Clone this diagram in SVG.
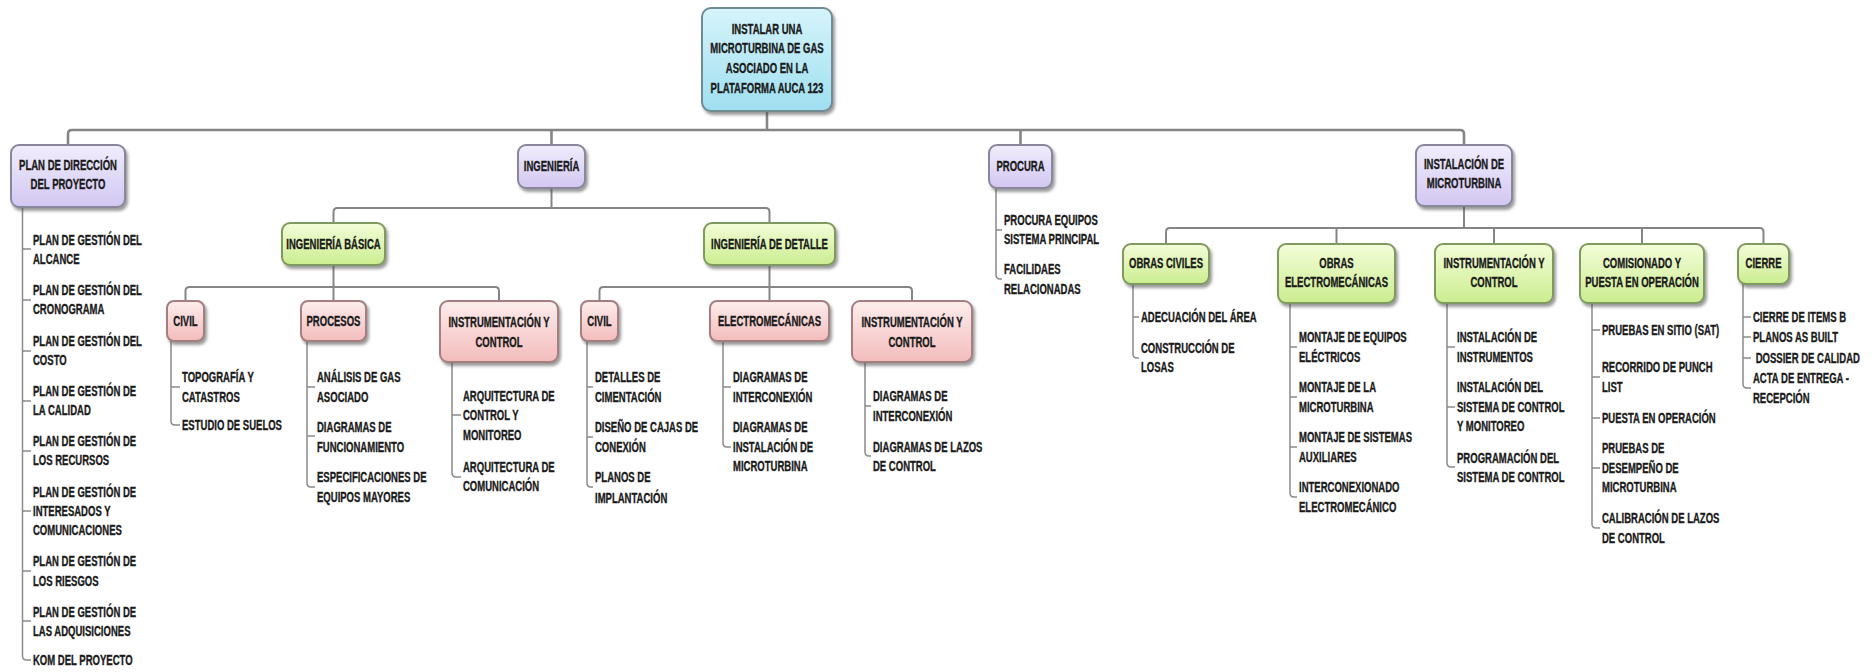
<svg xmlns="http://www.w3.org/2000/svg" width="1876" height="672" viewBox="0 0 1876 672">
  <defs>
    <linearGradient id="gCyan" x1="0" y1="0" x2="0" y2="1">
      <stop offset="0" stop-color="#d6f4fb"/>
      <stop offset="1" stop-color="#9fdff0"/>
    </linearGradient>
    <linearGradient id="gPurple" x1="0" y1="0" x2="0" y2="1">
      <stop offset="0" stop-color="#f1edfc"/>
      <stop offset="1" stop-color="#d2c7f2"/>
    </linearGradient>
    <linearGradient id="gGreen" x1="0" y1="0" x2="0" y2="1">
      <stop offset="0" stop-color="#f4fdd9"/>
      <stop offset="1" stop-color="#cbed90"/>
    </linearGradient>
    <linearGradient id="gPink" x1="0" y1="0" x2="0" y2="1">
      <stop offset="0" stop-color="#fdeded"/>
      <stop offset="1" stop-color="#f3bcbc"/>
    </linearGradient>
    <filter id="shadow" x="-20%" y="-20%" width="140%" height="150%">
      <feDropShadow dx="2" dy="3" stdDeviation="1.6" flood-color="#4a4a4a" flood-opacity="0.55"/>
    </filter>
  </defs>
  <style>
    .box { stroke-width: 2; filter: url(#shadow); }
    .cyan { fill: url(#gCyan); stroke: #6f8b93; }
    .purple { fill: url(#gPurple); stroke: #8a869c; }
    .green { fill: url(#gGreen); stroke: #7f9a5e; }
    .pink { fill: url(#gPink); stroke: #a57f7f; }
    .t { font-family: "Liberation Sans", Arial, sans-serif; font-weight: bold; font-size: 14px; fill: #1a1a1a; stroke: #1a1a1a; stroke-width: 0.35px; }
    .c { text-anchor: middle; }
    .bus { fill: none; stroke: #858585; stroke-width: 2.6; }
    .sub { fill: none; stroke: #858585; stroke-width: 2; }
    .leaf { fill: none; stroke: #8a8a8a; stroke-width: 1.5; }
  </style>
  <rect width="1876" height="672" fill="#ffffff"/>

  <!-- connectors -->
  <g id="connectors">
    <path class="bus" d="M767 111 V130 M68 145 V134 Q68 130 72 130 H1460 Q1464 130 1464 134 V145 M551.5 130 V145 M1020.5 130 V145"/>
    <path class="sub" d="M551.5 188 V208 M333.5 223 V212 Q333.5 208 337.5 208 H765.5 Q769.5 208 769.5 212 V223"/>
    <path class="sub" d="M333.5 265 V301 M185.5 301 V291 Q185.5 287 189.5 287 H495 Q499 287 499 291 V301"/>
    <path class="sub" d="M769.5 265 V301 M599.5 301 V291 Q599.5 287 603.5 287 H908 Q912 287 912 291 V301"/>
    <path class="sub" d="M1464 206 V228 M1166 244 V232 Q1166 228 1170 228 H1759.5 Q1763.5 228 1763.5 232 V244 M1336.5 228 V244 M1494 228 V244 M1642 228 V244"/>
    <!-- leaf brackets -->
    <path class="leaf" d="M22.5 208 V656 Q22.5 660 26.5 660 H31 M22.5 249 H31 M22.5 300 H31 M22.5 351 H31 M22.5 401 H31 M22.5 451 H31 M22.5 511 H31 M22.5 571 H31 M22.5 621 H31"/>
    <path class="leaf" d="M996 188 V275 Q996 279 1000 279 H1002 M996 230 H1002"/>
    <path class="leaf" d="M171 341 V421 Q171 425 175 425 H180 M171 387 H180"/>
    <path class="leaf" d="M307 341 V483 Q307 487 311 487 H315 M307 387 H315 M307 436 H315"/>
    <path class="leaf" d="M452 362 V473 Q452 477 456 477 H461 M452 415 H461"/>
    <path class="leaf" d="M587 341 V483 Q587 487 591 487 H593 M587 387 H593 M587 437 H593"/>
    <path class="leaf" d="M723 341 V443 Q723 447 727 447 H731 M723 387 H731"/>
    <path class="leaf" d="M865 362 V452 Q865 456 869 456 H871 M865 406 H871"/>
    <path class="leaf" d="M1133 284 V354 Q1133 358 1137 358 H1139 M1133 317 H1139"/>
    <path class="leaf" d="M1290 303 V493 Q1290 497 1294 497 H1297 M1290 347 H1297 M1290 397 H1297 M1290 447 H1297"/>
    <path class="leaf" d="M1447 303 V463 Q1447 467 1451 467 H1455 M1447 347 H1455 M1447 407 H1455"/>
    <path class="leaf" d="M1592 303 V524 Q1592 528 1596 528 H1600 M1592 330 H1600 M1592 377 H1600 M1592 418 H1600 M1592 468 H1600"/>
    <path class="leaf" d="M1743 284 V384 Q1743 388 1747 388 H1751 M1743 317 H1751 M1743 337 H1751 M1743 358 H1751"/>
  </g>

  <!-- root -->
  <g id="root">
    <rect class="box cyan" x="702" y="8" width="130" height="103" rx="9"/>
    <text class="t c" transform="matrix(0.68 0 0 1 767 0)"><tspan x="0" y="34">INSTALAR UNA</tspan><tspan x="0" y="53">MICROTURBINA DE GAS</tspan><tspan x="0" y="73">ASOCIADO EN LA</tspan><tspan x="0" y="93">PLATAFORMA AUCA 123</tspan></text>
  </g>

  <!-- level 1 -->
  <g id="plan-direccion">
    <rect class="box purple" x="11" y="145" width="114" height="62" rx="8"/>
    <text class="t c" transform="matrix(0.68 0 0 1 68 0)"><tspan x="0" y="170">PLAN DE DIRECCIÓN</tspan><tspan x="0" y="189">DEL PROYECTO</tspan></text>
    <text class="t" transform="matrix(0.68 0 0 1 33 0)">
      <tspan x="0" y="245">PLAN DE GESTIÓN DEL</tspan><tspan x="0" y="264">ALCANCE</tspan>
      <tspan x="0" y="295">PLAN DE GESTIÓN DEL</tspan><tspan x="0" y="314">CRONOGRAMA</tspan>
      <tspan x="0" y="346">PLAN DE GESTIÓN DEL</tspan><tspan x="0" y="365">COSTO</tspan>
      <tspan x="0" y="396">PLAN DE GESTIÓN DE</tspan><tspan x="0" y="415">LA CALIDAD</tspan>
      <tspan x="0" y="446">PLAN DE GESTIÓN DE</tspan><tspan x="0" y="465">LOS RECURSOS</tspan>
      <tspan x="0" y="497">PLAN DE GESTIÓN DE</tspan><tspan x="0" y="516">INTERESADOS Y</tspan><tspan x="0" y="535">COMUNICACIONES</tspan>
      <tspan x="0" y="566">PLAN DE GESTIÓN DE</tspan><tspan x="0" y="586">LOS RIESGOS</tspan>
      <tspan x="0" y="617">PLAN DE GESTIÓN DE</tspan><tspan x="0" y="636">LAS ADQUISICIONES</tspan>
      <tspan x="0" y="665">KOM DEL PROYECTO</tspan>
    </text>
  </g>

  <g id="ingenieria">
    <rect class="box purple" x="518" y="145" width="67" height="43" rx="8"/>
    <text class="t c" transform="matrix(0.68 0 0 1 551.5 0)"><tspan x="0" y="171">INGENIERÍA</tspan></text>
  </g>

  <g id="procura">
    <rect class="box purple" x="989" y="145" width="63" height="43" rx="8"/>
    <text class="t c" transform="matrix(0.68 0 0 1 1020.5 0)"><tspan x="0" y="171">PROCURA</tspan></text>
    <text class="t" transform="matrix(0.68 0 0 1 1004 0)">
      <tspan x="0" y="225">PROCURA EQUIPOS</tspan><tspan x="0" y="244">SISTEMA PRINCIPAL</tspan>
      <tspan x="0" y="274">FACILIDAES</tspan><tspan x="0" y="294">RELACIONADAS</tspan>
    </text>
  </g>

  <g id="instalacion">
    <rect class="box purple" x="1416" y="145" width="96" height="61" rx="8"/>
    <text class="t c" transform="matrix(0.68 0 0 1 1464 0)"><tspan x="0" y="169">INSTALACIÓN DE</tspan><tspan x="0" y="188">MICROTURBINA</tspan></text>
  </g>

  <!-- ingeniería branches -->
  <g id="ing-basica">
    <rect class="box green" x="282" y="223" width="103" height="42" rx="8"/>
    <text class="t c" transform="matrix(0.68 0 0 1 333.5 0)"><tspan x="0" y="249">INGENIERÍA BÁSICA</tspan></text>
  </g>

  <g id="ing-detalle">
    <rect class="box green" x="704" y="223" width="131" height="42" rx="8"/>
    <text class="t c" transform="matrix(0.68 0 0 1 769.5 0)"><tspan x="0" y="249">INGENIERÍA DE DETALLE</tspan></text>
  </g>

  <g id="basica-civil">
    <rect class="box pink" x="167" y="301" width="37" height="40" rx="7"/>
    <text class="t c" transform="matrix(0.68 0 0 1 185.5 0)"><tspan x="0" y="326">CIVIL</tspan></text>
    <text class="t" transform="matrix(0.68 0 0 1 182 0)">
      <tspan x="0" y="382">TOPOGRAFÍA Y</tspan><tspan x="0" y="402">CATASTROS</tspan>
      <tspan x="0" y="430">ESTUDIO DE SUELOS</tspan>
    </text>
  </g>

  <g id="basica-procesos">
    <rect class="box pink" x="301" y="301" width="65" height="40" rx="7"/>
    <text class="t c" transform="matrix(0.68 0 0 1 333.5 0)"><tspan x="0" y="326">PROCESOS</tspan></text>
    <text class="t" transform="matrix(0.68 0 0 1 317 0)">
      <tspan x="0" y="382">ANÁLISIS DE GAS</tspan><tspan x="0" y="402">ASOCIADO</tspan>
      <tspan x="0" y="432">DIAGRAMAS DE</tspan><tspan x="0" y="452">FUNCIONAMIENTO</tspan>
      <tspan x="0" y="482">ESPECIFICACIONES DE</tspan><tspan x="0" y="502">EQUIPOS MAYORES</tspan>
    </text>
  </g>

  <g id="basica-instrumentacion">
    <rect class="box pink" x="440" y="301" width="118" height="61" rx="8"/>
    <text class="t c" transform="matrix(0.68 0 0 1 499 0)"><tspan x="0" y="327">INSTRUMENTACIÓN Y</tspan><tspan x="0" y="347">CONTROL</tspan></text>
    <text class="t" transform="matrix(0.68 0 0 1 463 0)">
      <tspan x="0" y="401">ARQUITECTURA DE</tspan><tspan x="0" y="420">CONTROL Y</tspan><tspan x="0" y="440">MONITOREO</tspan>
      <tspan x="0" y="472">ARQUITECTURA DE</tspan><tspan x="0" y="491">COMUNICACIÓN</tspan>
    </text>
  </g>

  <g id="detalle-civil">
    <rect class="box pink" x="581" y="301" width="37" height="40" rx="7"/>
    <text class="t c" transform="matrix(0.68 0 0 1 599.5 0)"><tspan x="0" y="326">CIVIL</tspan></text>
    <text class="t" transform="matrix(0.68 0 0 1 595 0)">
      <tspan x="0" y="382">DETALLES DE</tspan><tspan x="0" y="402">CIMENTACIÓN</tspan>
      <tspan x="0" y="432">DISEÑO DE CAJAS DE</tspan><tspan x="0" y="452">CONEXIÓN</tspan>
      <tspan x="0" y="482">PLANOS DE</tspan><tspan x="0" y="503">IMPLANTACIÓN</tspan>
    </text>
  </g>

  <g id="detalle-electromecanicas">
    <rect class="box pink" x="710" y="301" width="119" height="40" rx="7"/>
    <text class="t c" transform="matrix(0.68 0 0 1 769.5 0)"><tspan x="0" y="326">ELECTROMECÁNICAS</tspan></text>
    <text class="t" transform="matrix(0.68 0 0 1 733 0)">
      <tspan x="0" y="382">DIAGRAMAS DE</tspan><tspan x="0" y="402">INTERCONEXIÓN</tspan>
      <tspan x="0" y="432">DIAGRAMAS DE</tspan><tspan x="0" y="452">INSTALACIÓN DE</tspan><tspan x="0" y="471">MICROTURBINA</tspan>
    </text>
  </g>

  <g id="detalle-instrumentacion">
    <rect class="box pink" x="852" y="301" width="120" height="61" rx="8"/>
    <text class="t c" transform="matrix(0.68 0 0 1 912 0)"><tspan x="0" y="327">INSTRUMENTACIÓN Y</tspan><tspan x="0" y="347">CONTROL</tspan></text>
    <text class="t" transform="matrix(0.68 0 0 1 873 0)">
      <tspan x="0" y="401">DIAGRAMAS DE</tspan><tspan x="0" y="421">INTERCONEXIÓN</tspan>
      <tspan x="0" y="452">DIAGRAMAS DE LAZOS</tspan><tspan x="0" y="471">DE CONTROL</tspan>
    </text>
  </g>

  <!-- instalación branches -->
  <g id="obras-civiles">
    <rect class="box green" x="1123" y="244" width="86" height="40" rx="8"/>
    <text class="t c" transform="matrix(0.68 0 0 1 1166 0)"><tspan x="0" y="268">OBRAS CIVILES</tspan></text>
    <text class="t" transform="matrix(0.68 0 0 1 1141 0)">
      <tspan x="0" y="322">ADECUACIÓN DEL ÁREA</tspan>
      <tspan x="0" y="353">CONSTRUCCIÓN DE</tspan><tspan x="0" y="372">LOSAS</tspan>
    </text>
  </g>

  <g id="obras-electromecanicas">
    <rect class="box green" x="1278" y="244" width="117" height="59" rx="8"/>
    <text class="t c" transform="matrix(0.68 0 0 1 1336.5 0)"><tspan x="0" y="268">OBRAS</tspan><tspan x="0" y="287">ELECTROMECÁNICAS</tspan></text>
    <text class="t" transform="matrix(0.68 0 0 1 1299 0)">
      <tspan x="0" y="342">MONTAJE DE EQUIPOS</tspan><tspan x="0" y="362">ELÉCTRICOS</tspan>
      <tspan x="0" y="392">MONTAJE DE LA</tspan><tspan x="0" y="412">MICROTURBINA</tspan>
      <tspan x="0" y="442">MONTAJE DE SISTEMAS</tspan><tspan x="0" y="462">AUXILIARES</tspan>
      <tspan x="0" y="492">INTERCONEXIONADO</tspan><tspan x="0" y="512">ELECTROMECÁNICO</tspan>
    </text>
  </g>

  <g id="instrumentacion-control">
    <rect class="box green" x="1435" y="244" width="118" height="59" rx="8"/>
    <text class="t c" transform="matrix(0.68 0 0 1 1494 0)"><tspan x="0" y="268">INSTRUMENTACIÓN Y</tspan><tspan x="0" y="287">CONTROL</tspan></text>
    <text class="t" transform="matrix(0.68 0 0 1 1457 0)">
      <tspan x="0" y="342">INSTALACIÓN DE</tspan><tspan x="0" y="362">INSTRUMENTOS</tspan>
      <tspan x="0" y="392">INSTALACIÓN DEL</tspan><tspan x="0" y="412">SISTEMA DE CONTROL</tspan><tspan x="0" y="431">Y MONITOREO</tspan>
      <tspan x="0" y="463">PROGRAMACIÓN DEL</tspan><tspan x="0" y="482">SISTEMA DE CONTROL</tspan>
    </text>
  </g>

  <g id="comisionado">
    <rect class="box green" x="1580" y="244" width="124" height="59" rx="8"/>
    <text class="t c" transform="matrix(0.68 0 0 1 1642 0)"><tspan x="0" y="268">COMISIONADO Y</tspan><tspan x="0" y="287">PUESTA EN OPERACIÓN</tspan></text>
    <text class="t" transform="matrix(0.68 0 0 1 1602 0)">
      <tspan x="0" y="335">PRUEBAS EN SITIO (SAT)</tspan>
      <tspan x="0" y="372">RECORRIDO DE PUNCH</tspan><tspan x="0" y="392">LIST</tspan>
      <tspan x="0" y="423">PUESTA EN OPERACIÓN</tspan>
      <tspan x="0" y="453">PRUEBAS DE</tspan><tspan x="0" y="473">DESEMPEÑO DE</tspan><tspan x="0" y="492">MICROTURBINA</tspan>
      <tspan x="0" y="523">CALIBRACIÓN DE LAZOS</tspan><tspan x="0" y="543">DE CONTROL</tspan>
    </text>
  </g>

  <g id="cierre">
    <rect class="box green" x="1738" y="244" width="51" height="40" rx="8"/>
    <text class="t c" transform="matrix(0.68 0 0 1 1763.5 0)"><tspan x="0" y="268">CIERRE</tspan></text>
    <text class="t" transform="matrix(0.68 0 0 1 1753 0)">
      <tspan x="0" y="322">CIERRE DE ITEMS B</tspan>
      <tspan x="0" y="342">PLANOS AS BUILT</tspan>
      <tspan x="4" y="363">DOSSIER DE CALIDAD</tspan>
      <tspan x="0" y="383">ACTA DE ENTREGA -</tspan><tspan x="0" y="403">RECEPCIÓN</tspan>
    </text>
  </g>
</svg>
